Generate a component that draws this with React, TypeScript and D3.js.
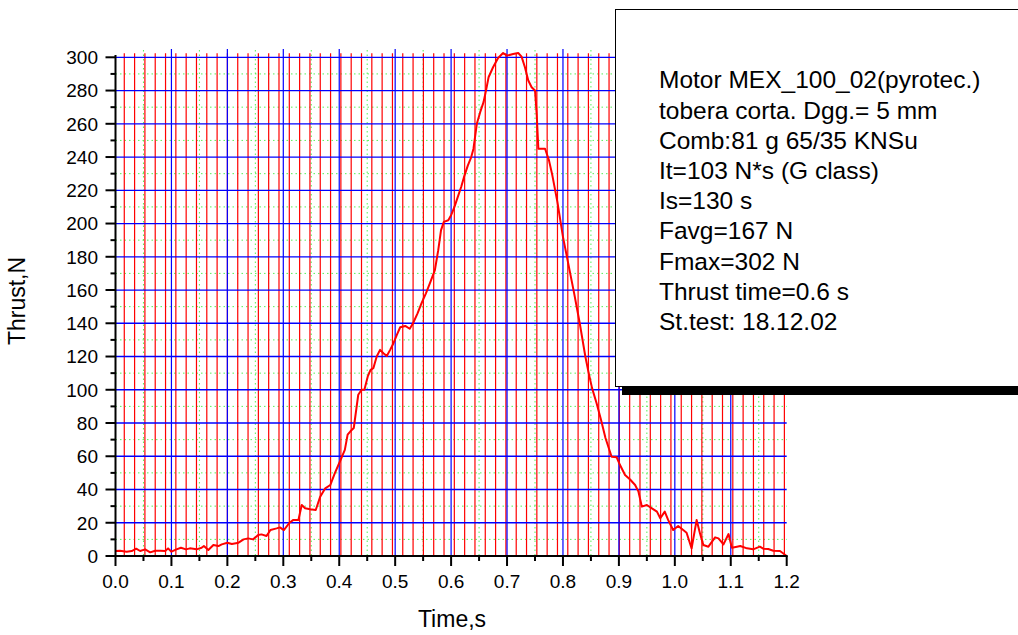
import React from "react";
import * as d3 from "d3";

const times = [
  0.0, 0.008, 0.02, 0.029, 0.037, 0.044, 0.053, 0.062, 0.071, 0.08, 0.089, 0.094, 0.1, 0.109, 0.117, 0.126, 0.133, 0.145,
  0.154, 0.158, 0.166, 0.175, 0.184, 0.19, 0.2, 0.208, 0.22, 0.229, 0.237, 0.246, 0.255, 0.261, 0.27, 0.277, 0.288, 0.294,
  0.301, 0.311, 0.318, 0.327, 0.333, 0.339, 0.348, 0.358, 0.366, 0.375, 0.384, 0.392, 0.401, 0.41, 0.415, 0.42, 0.426,
  0.434, 0.44, 0.445, 0.451, 0.456, 0.461, 0.467, 0.473, 0.479, 0.485, 0.491, 0.497, 0.503, 0.509, 0.518, 0.526, 0.532,
  0.54, 0.547, 0.555, 0.562, 0.571, 0.577, 0.582, 0.587, 0.595, 0.6, 0.606, 0.612, 0.618, 0.624, 0.63, 0.636, 0.64, 0.646,
  0.652, 0.658, 0.663, 0.667, 0.675, 0.684, 0.693, 0.7, 0.711, 0.72, 0.726, 0.732, 0.738, 0.744, 0.75, 0.753, 0.756, 0.768,
  0.775, 0.781, 0.79, 0.8, 0.81, 0.82, 0.83, 0.84, 0.846, 0.852, 0.86, 0.868, 0.876, 0.883, 0.887, 0.896, 0.902, 0.911,
  0.92, 0.929, 0.935, 0.941, 0.95, 0.959, 0.968, 0.974, 0.982, 0.988, 0.997, 1.006, 1.015, 1.021, 1.03, 1.039, 1.045,
  1.051, 1.06, 1.072, 1.078, 1.087, 1.096, 1.102, 1.111, 1.117, 1.129, 1.14, 1.152, 1.158, 1.167, 1.176, 1.188, 1.2,
];
const thrust = [
  3.0, 3.2, 2.6, 3.0, 4.4, 3.0, 4.0, 2.2, 3.2, 3.2, 3.0, 4.6, 2.6, 4.0, 5.0, 4.0, 4.6, 4.0,
  5.0, 6.0, 3.6, 6.6, 6.0, 7.0, 8.0, 7.2, 8.0, 10.0, 10.6, 10.0, 12.6, 13.0, 12.0, 15.6, 16.6, 17.2,
  15.6, 20.0, 21.7, 21.7, 30.7, 28.7, 28.1, 27.7, 35.7, 40.7, 42.7, 49.7, 56.7, 63.8, 73, 75, 77,
  97, 100, 100, 108, 112, 113, 120, 124, 122, 120.3, 124, 128, 133, 137.6, 138.4, 136.7, 140,
  146, 152, 158, 164, 172, 184, 196, 201, 202, 205, 210, 216, 222, 229, 235, 240, 245, 260,
  267, 273, 281, 288, 294, 299.6, 302.6, 301, 302, 302.6, 300.4, 294, 286, 282, 280, 266, 245, 245,
  238, 229, 213, 192, 175, 158, 140, 120, 110, 101, 92, 82, 71, 63.8, 59.7, 59.4, 54.7, 48.7,
  46, 42.7, 38.7, 29.7, 30.7, 28.7, 26.7, 22.7, 26.7, 21.7, 15.6, 18, 15.6, 14, 4.6, 21.7, 13.6,
  6.6, 5.6, 11.2, 10.6, 7, 13.2, 5, 5.6, 6, 4.6, 4, 5.6, 4.4, 4.2, 3.2, 3, 0,
];
const xTicks = [0.0, 0.1, 0.2, 0.3, 0.4, 0.5, 0.6, 0.7, 0.8, 0.9, 1.0, 1.1, 1.2];
const yTicks = [0, 20, 40, 60, 80, 100, 120, 140, 160, 180, 200, 220, 240, 260, 280, 300];
const infoLines = [
  "Motor MEX_100_02(pyrotec.)",
  "tobera corta. Dgg.= 5 mm",
  "Comb:81 g 65/35 KNSu",
  "It=103 N*s (G class)",
  "Is=130 s",
  "Favg=167 N",
  "Fmax=302 N",
  "Thrust time=0.6 s",
  "St.test: 18.12.02",
];
// red sampling grid lines (start, step, count)
const redGridStart = 0.0157;
const redGridStep = 0.01844;
const redGridCount = 65;

const FONT = "'Liberation Sans', Arial, Helvetica, sans-serif";

export default function App() {
  const x = d3.scaleLinear().domain([0, 1.2]).range([115.5, 786.7]);
  const y = d3.scaleLinear().domain([0, 300]).range([556, 57.3]);
  const x0 = x(0), x1 = x(1.2), yb = y(0);

  const minorX = d3.range(0, 12).map((i) => 0.05 + i * 0.1);
  const minorY = d3.range(0, 15).map((i) => 10 + i * 20);
  const redLines = d3.range(redGridCount).map((i) => redGridStart + i * redGridStep);

  const pts: [number, number][] = times.map((t, i) => [t, thrust[i]]);
  const line = d3.line<[number, number]>().x((d) => x(d[0])).y((d) => y(d[1]));

  return (
    <svg width={1018} height={635} style={{ position: "absolute", left: 0, top: 0, background: "#fff" }}>
      <rect x={0} y={0} width={1018} height={635} fill="#fff" />
      {/* green dotted minor grid */}
      {minorX.map((t) => (
        <line key={"gx" + t} x1={x(t)} x2={x(t)} y1={50} y2={yb} stroke="#55ee55" strokeWidth={1} strokeDasharray="1.5,3" />
      ))}
      {minorY.map((v) => (
        <line key={"gy" + v} x1={x0} x2={x1} y1={y(v)} y2={y(v)} stroke="#55ee55" strokeWidth={1} strokeDasharray="1.5,3" />
      ))}
      {/* red vertical lines */}
      {redLines.map((t, i) => (
        <line key={"r" + i} x1={x(t)} x2={x(t)} y1={53.3} y2={yb} stroke="#ff0000" strokeWidth={1.2} />
      ))}
      {/* blue major grid */}
      {xTicks.slice(1, -1).map((t) => (
        <line key={"bx" + t} x1={x(t)} x2={x(t)} y1={49} y2={yb} stroke="#0000ff" strokeWidth={1.2} />
      ))}
      {yTicks.slice(1).map((v) => (
        <line key={"by" + v} x1={x0} x2={x1} y1={y(v)} y2={y(v)} stroke="#0000ff" strokeWidth={1.3} />
      ))}
      {/* curve */}
      <path d={line(pts) || ""} fill="none" stroke="#ff0000" strokeWidth={2} strokeLinejoin="round" />
      {/* axes */}
      <line x1={x0} x2={x0} y1={55} y2={yb + 1} stroke="#000" strokeWidth={2} />
      <line x1={x0 - 1} x2={x1 + 1} y1={yb} y2={yb} stroke="#000" strokeWidth={2} />
      {yTicks.map((v) => (
        <g key={"yt" + v}>
          <line x1={x0 - 10} x2={x0} y1={y(v)} y2={y(v)} stroke="#000" strokeWidth={2} />
          <text x={98} y={y(v)} dy="0.36em" textAnchor="end" fontFamily={FONT} fontSize={19} fill="#000">
            {v}
          </text>
        </g>
      ))}
      {minorY.map((v) => (
        <line key={"ym" + v} x1={x0 - 5} x2={x0} y1={y(v)} y2={y(v)} stroke="#000" strokeWidth={2} />
      ))}
      {xTicks.map((t) => (
        <g key={"xt" + t}>
          <line x1={x(t)} x2={x(t)} y1={yb} y2={yb + 10} stroke="#000" strokeWidth={2} />
          <text x={x(t)} y={588.3} textAnchor="middle" fontFamily={FONT} fontSize={19} fill="#000">
            {t.toFixed(1)}
          </text>
        </g>
      ))}
      {minorX.map((t) => (
        <line key={"xm" + t} x1={x(t)} x2={x(t)} y1={yb} y2={yb + 5} stroke="#000" strokeWidth={2} />
      ))}
      {/* axis titles */}
      <text x={452} y={627} textAnchor="middle" fontFamily={FONT} fontSize={23} fill="#000">
        Time,s
      </text>
      <text transform="translate(25,301) rotate(-90)" textAnchor="middle" fontFamily={FONT} fontSize={23} fill="#000">
        Thrust,N
      </text>
      {/* info box */}
      <rect x={622} y={386.7} width={420} height={8.3} fill="#000" />
      <rect x={615.5} y={9.5} width={420} height={377} fill="#fff" stroke="#000" strokeWidth={1} />
      {infoLines.map((s, i) => (
        <text key={"info" + i} x={659} y={88.3 + i * 30.2} fontFamily={FONT} fontSize={24.5} fill="#000">
          {s}
        </text>
      ))}
    </svg>
  );
}
